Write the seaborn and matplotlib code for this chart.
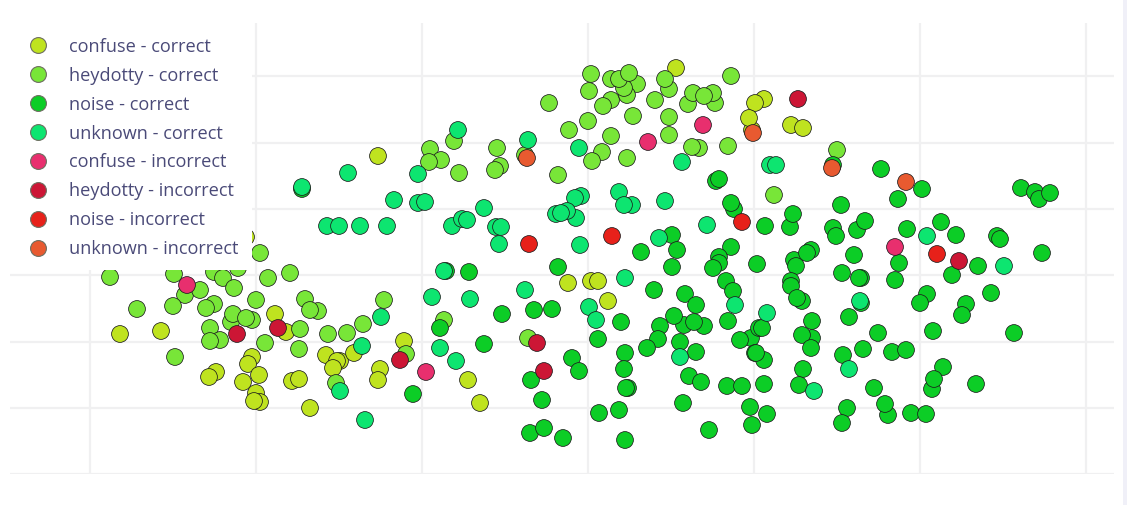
import matplotlib
matplotlib.use("Agg")
import matplotlib.pyplot as plt
from matplotlib.lines import Line2D
from matplotlib.patches import Rectangle
import pandas as pd
import seaborn as sns

labels = ["confuse - correct", "heydotty - correct", "noise - correct", "unknown - correct",
          "confuse - incorrect", "heydotty - incorrect", "noise - incorrect", "unknown - incorrect"]
colors = ["#BFE31F", "#78E638", "#0CCD26", "#0DE570", "#E82F6E", "#CC1635", "#E7211A", "#E85A30"]

confuse_correct = [(120,334),(161,331),(275,314),(286,332),(216,372),(209,377),(252,357),(248,364),(259,375),(243,382),(256,393),(260,402),(254,401),(292,381),(299,379),(310,408),(326,355),(340,361),(337,361),(333,368),(354,353),(404,341),(380,369),(378,380),(378,156),(568,283),(591,281),(598,281),(608,301),(468,380),(480,403),(676,68),(764,99),(755,103),(752,130),(749,118),(791,125),(803,128),(246,237)]
heydotty_correct = [(110,277),(174,274),(185,295),(200,290),(173,306),(137,309),(218,268),(214,272),(223,278),(234,288),(238,268),(268,278),(290,273),(260,253),(256,300),(214,304),(206,308),(231,322),(233,314),(252,320),(246,318),(210,328),(220,340),(210,341),(265,343),(300,329),(299,349),(305,299),(318,311),(310,310),(328,334),(347,333),(363,324),(384,300),(175,357),(336,383),(406,354),(430,149),(454,141),(441,160),(429,162),(459,173),(497,148),(500,166),(495,170),(558,175),(569,130),(588,121),(549,103),(591,74),(589,91),(611,79),(611,100),(603,106),(611,136),(602,152),(592,161),(525,155),(637,84),(627,95),(624,88),(619,79),(629,73),(633,116),(655,100),(669,89),(665,79),(669,117),(669,135),(627,158),(688,104),(715,103),(713,93),(693,93),(704,96),(731,76),(699,148),(692,147),(728,146),(837,150),(774,195),(444,320),(528,338)]
noise_correct = [(302,189),(446,271),(716,181),(719,179),(734,209),(731,203),(765,226),(790,227),(793,214),(841,205),(833,228),(836,236),(857,230),(865,221),(881,169),(833,165),(672,235),(677,250),(641,252),(731,247),(757,264),(719,257),(719,263),(713,268),(794,260),(796,266),(811,250),(807,253),(854,255),(842,273),(672,267),(558,267),(469,272),(654,290),(685,294),(696,305),(726,281),(733,291),(502,314),(534,310),(552,309),(621,322),(684,325),(704,326),(674,316),(694,322),(728,321),(440,328),(660,326),(658,339),(484,344),(598,339),(680,342),(751,338),(740,340),(755,353),(759,328),(647,348),(625,353),(696,352),(624,369),(572,358),(579,371),(531,380),(689,376),(701,382),(727,386),(742,386),(628,388),(626,388),(542,400),(683,403),(750,407),(599,413),(619,410),(752,425),(709,430),(530,433),(544,428),(563,438),(625,440),(767,414),(413,394),(922,189),(898,199),(1021,188),(1035,192),(1039,199),(1050,193),(907,229),(941,222),(956,235),(997,236),(1000,239),(1042,253),(899,263),(978,266),(952,275),(861,278),(859,278),(895,280),(791,281),(791,286),(802,301),(797,298),(927,294),(920,303),(966,304),(962,315),(991,293),(861,303),(849,317),(812,321),(762,328),(812,338),(802,335),(811,348),(878,333),(933,331),(1014,333),(863,349),(843,355),(892,352),(906,350),(764,360),(756,353),(803,369),(943,367),(932,389),(934,379),(976,384),(764,384),(799,385),(874,388),(888,415),(885,404),(847,408),(842,423),(911,413),(926,414)]
unknown_correct = [(302,187),(348,173),(418,174),(394,200),(418,203),(425,202),(458,130),(528,140),(579,148),(484,208),(452,226),(462,219),(467,220),(496,227),(501,227),(499,244),(327,226),(339,226),(360,226),(387,226),(580,245),(581,196),(575,198),(576,218),(556,214),(567,211),(561,213),(682,162),(770,165),(776,165),(619,192),(632,205),(624,205),(665,201),(659,238),(707,225),(444,271),(432,297),(470,299),(525,290),(625,278),(589,307),(596,320),(440,348),(456,361),(680,357),(735,305),(362,346),(381,317),(340,391),(365,420),(927,236),(1004,266),(767,313),(860,301),(849,369),(814,391)]
confuse_incorrect = [(187,285),(426,372),(703,125),(648,142),(895,247)]
heydotty_incorrect = [(237,334),(278,328),(400,360),(537,343),(544,371),(798,99),(959,261)]
noise_incorrect = [(529,244),(612,236),(742,222),(937,254)]
unknown_incorrect = [(527,158),(753,133),(832,168),(906,182)]

series = [confuse_correct, heydotty_correct, noise_correct, unknown_correct,
          confuse_incorrect, heydotty_incorrect, noise_incorrect, unknown_incorrect]
x_grid = [90, 256, 422, 588, 754, 920, 1086]
y_grid = [76, 143, 209, 275, 342, 408, 474]

W, H = 1127, 505
L, R, T, B = 10, 1114, 23, 474

df = pd.DataFrame([{"x": p[0], "y": p[1], "group": lab}
                   for lab, pts in zip(labels, series) for p in pts])

sns.set_theme(style="white")
plt.rcParams["font.family"] = ["Open Sans", "DejaVu Sans"]

fig = plt.figure(figsize=(W / 100, H / 100), dpi=100, facecolor="white")
ax = fig.add_axes([L / W, 1 - B / H, (R - L) / W, (B - T) / H])

sns.scatterplot(data=df, x="x", y="y", hue="group", hue_order=labels,
                palette=dict(zip(labels, colors)), s=146, edgecolor="#1c1c1c",
                linewidth=0.55, legend=False, ax=ax, zorder=3, clip_on=False)

ax.set_xlim(L, R)
ax.set_ylim(B, T)
ax.set_xticks(x_grid)
ax.set_yticks(y_grid)
ax.set_xticklabels([])
ax.set_yticklabels([])
ax.set_xlabel("")
ax.set_ylabel("")
ax.tick_params(length=0)
ax.grid(True, color="#F0F0F1", linewidth=1.6, zorder=0)
ax.set_axisbelow(True)
for s in ax.spines.values():
    s.set_visible(False)

# white panel behind the legend, which hides the points beneath it
ax.add_artist(Rectangle((0, 1 - 270 / H), 252 / W, 250 / H, transform=fig.transFigure,
                        facecolor="white", edgecolor="none", zorder=5, clip_on=False))

handles = [Line2D([], [], linestyle="none", marker="o", markersize=11.4,
                  markerfacecolor=c, markeredgecolor="#6e6e60", markeredgewidth=0.8)
           for c in colors]
leg = ax.legend(handles, labels, loc="upper left", bbox_to_anchor=(0, 1 - 20 / H),
                bbox_transform=fig.transFigure, frameon=False,
                fontsize=13.1, labelcolor="#4A4A78", borderaxespad=0,
                borderpad=0.98, handletextpad=0.58, handlelength=2.25,
                labelspacing=0.6)
leg.set_zorder(10)

fig.add_artist(Rectangle((1123 / W, 0), 4 / W, 1, transform=fig.transFigure,
                         facecolor="#F0F0F8", edgecolor="none"))
fig.savefig("out.png", dpi=100)
